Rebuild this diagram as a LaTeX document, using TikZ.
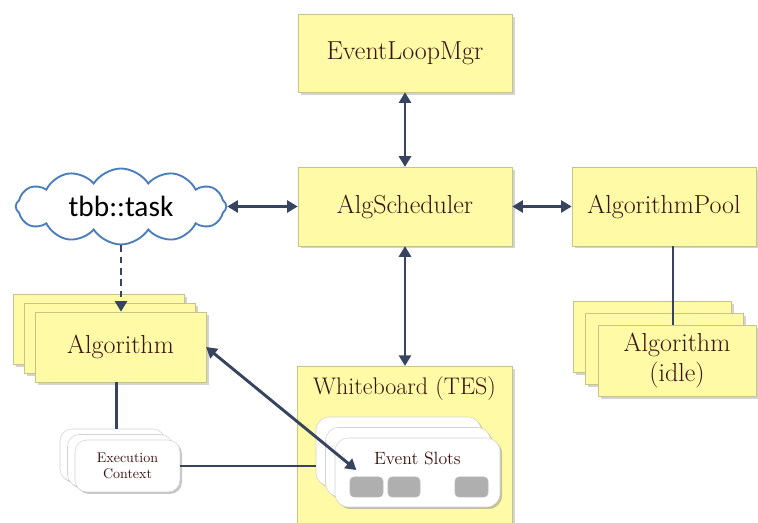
\documentclass[tikz,border=0pt]{standalone}
\usepackage{fontspec}
\newfontfamily\cloudfont{Carlito}
\usetikzlibrary{arrows.meta,calc,shapes.symbols,shadows}
\definecolor{padyellow}{RGB}{254,250,165}
\definecolor{padedge}{RGB}{200,196,135}
\definecolor{inkred}{RGB}{58,16,12}
\definecolor{linkblue}{RGB}{55,68,95}
\definecolor{cloudblue}{RGB}{75,125,190}
\definecolor{slotgray}{RGB}{175,175,175}
\tikzset{>={Triangle[length=8pt,width=9pt]},every node/.style={font=\fontsize{19.5}{23}\selectfont,text=inkred},
 ybox/.style={draw=padedge,fill=padyellow,inner sep=0pt,drop shadow={shadow xshift=2pt,shadow yshift=-2pt,opacity=.35}},
 wbox/.style={draw=gray!35,fill=white,rounded corners=10pt,inner sep=0pt,drop shadow={shadow xshift=1.5pt,shadow yshift=-1.5pt,opacity=.45}},
 gbox/.style={draw=gray!55,fill=slotgray,rounded corners=3pt,inner sep=0pt,minimum height=15pt},
 link/.style={draw=linkblue,line width=2.2pt},
 small/.style={font=\fontsize{10.5}{12.5}\selectfont,align=center}}
\begin{document}
\begin{tikzpicture}[x=.75pt,y=-.75pt]
\useasboundingbox (0,0) rectangle (758,523);
\clip (0,0) rectangle (758,523);
% scheduler row
\node[ybox,minimum width=160.5pt,minimum height=58.5pt] (elm) at (405,53) {EventLoopMgr};
\node[ybox,minimum width=160.5pt,minimum height=59pt] (sched) at (405,206.5) {AlgScheduler};
\node[ybox,minimum width=138pt,minimum height=59pt] (pool) at (664,206.5) {AlgorithmPool};
\node[cloud,draw=cloudblue,line width=1.4pt,fill=white,cloud puffs=12,cloud puff arc=115,aspect=2.8,
 minimum width=158pt,minimum height=57pt,inner sep=0pt,text=black] (task) at (121,206.5) {\cloudfont\fontsize{22}{26}\selectfont tbb::task};
% stacks
\foreach \i in {2,1}
 \node[ybox,minimum width=128pt,minimum height=52.5pt] (alg\i) at ($(120.5,347)+(-11*\i,-9*\i)$) {};
\node[ybox,minimum width=128pt,minimum height=52.5pt] (alg) at (120.5,347) {Algorithm};
\foreach \i in {2,1}
 \node[ybox,minimum width=118.5pt,minimum height=53.25pt] (idle\i) at ($(677,360.5)+(-12.5*\i,-12*\i)$) {};
\node[ybox,minimum width=118.5pt,minimum height=53.25pt,align=center] (idle) at (677,360.5) {Algorithm\\(idle)};
\foreach \i in {2,1}
 \node[wbox,rounded corners=9pt,minimum width=78.75pt,minimum height=39pt] (ctx\i) at ($(127.5,466)+(-7.5*\i,-5.5*\i)$) {};
\node[wbox,rounded corners=9pt,minimum width=78.75pt,minimum height=39pt,small] (ctx) at (127.5,466) {Execution\\Context};
% whiteboard
\node[ybox,anchor=north,minimum width=161.25pt,minimum height=125pt,
 label={[anchor=north,yshift=-4.5pt,font=\fontsize{18}{21}\selectfont]north:Whiteboard (TES)}] (wb) at (404.5,366) {};
\foreach \i in {2,1}
 \node[wbox,minimum width=123.75pt,minimum height=51.75pt] (slots\i) at ($(417.5,472.5)+(-9.5*\i,-10.5*\i)$) {};
\node[wbox,minimum width=123.75pt,minimum height=51.75pt,
 label={[anchor=north,yshift=-7pt,font=\fontsize{13.3}{16}\selectfont]north:Event Slots}] (slots) at (417.5,472.5) {};
\foreach \x/\n/\w in {366.5/1/24.75,404/2/24,471.5/3/24.75}
 \node[gbox,minimum width=\w pt] (g\n) at (\x,487) {};
% connectors
\draw[link,<->] (elm) -- (sched);
\draw[link,<->] (task) -- (sched);
\draw[link,<->] (sched) -- (pool);
\draw[link,<->] (sched.south) -- (sched.south |- wb.north);
\draw[link,->,dash pattern=on 5pt off 3.5pt] (task.south) -- (task.south |- alg.north);
\draw[link] ([xshift=-3pt]idle.north) -- ([xshift=-3pt]idle.north |- pool.south);
\draw[link] ([xshift=-3pt]alg.south) -- ([xshift=-3pt]alg.south |- ctx2.north);
\draw[link] (ctx.east) -- (ctx.east -| slots2.west);
\coordinate (hit) at ($(g1.north west)+(5pt,5pt)$);
\draw[link,<->] (alg.east) -- (hit);
\end{tikzpicture}
\end{document}
